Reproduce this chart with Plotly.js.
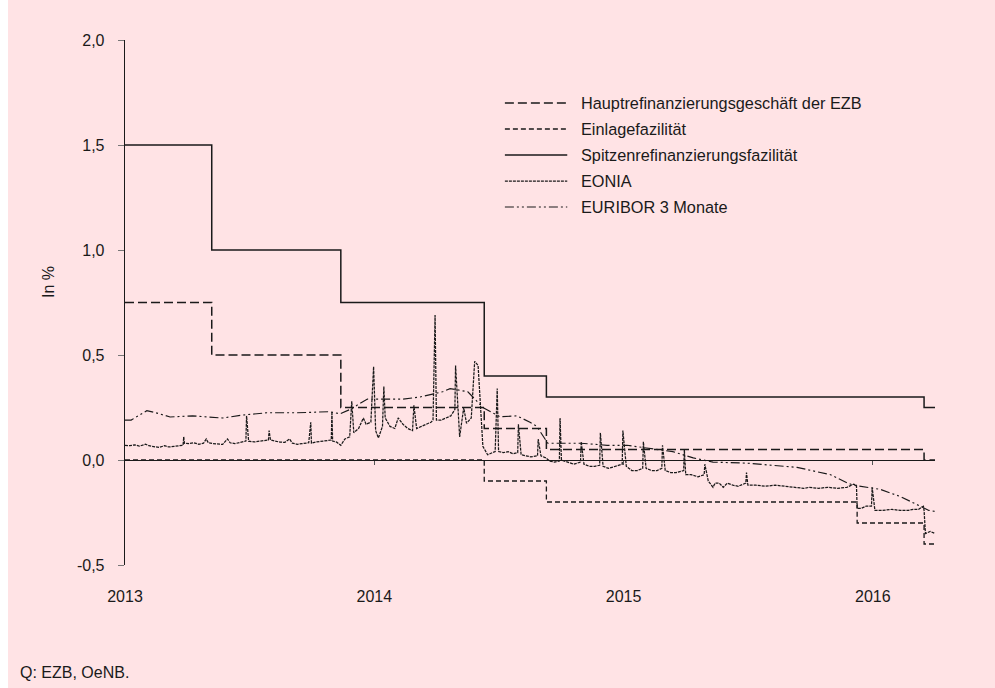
<!DOCTYPE html>
<html>
<head>
<meta charset="utf-8">
<script src="https://cdn.plot.ly/plotly-3.0.1.min.js"></script>
<style>
  html, body { margin: 0; padding: 0; background: #ffffff; }
  #chart { position: absolute; left: 8px; top: 0; width: 987px; height: 688px; }
</style>
</head>
<body>
<div id="chart"></div>
<script>
// ---------- DATA ----------
const seriesNames = [
  "Hauptrefinanzierungsgeschäft der EZB",
  "Einlagefazilität",
  "Spitzenrefinanzierungsfazilität",
  "EONIA",
  "EURIBOR 3 Monate"
];

const mroDates   = ["2013-01-01","2013-05-08","2013-11-13","2014-06-11","2014-09-10","2016-03-16","2016-04-01"];
const mroValues  = [0.75, 0.50, 0.25, 0.15, 0.05, 0.00, 0.00];

const depoDates  = ["2013-01-01","2014-06-11","2014-09-10","2015-12-09","2016-03-16","2016-04-01"];
const depoValues = [0.00, -0.10, -0.20, -0.30, -0.40, -0.40];

const mlfDates   = ["2013-01-01","2013-05-08","2013-11-13","2014-06-11","2014-09-10","2016-03-16","2016-04-01"];
const mlfValues  = [1.50, 1.00, 0.75, 0.40, 0.30, 0.25, 0.25];

const eoniaDates = [
"2013-01-01","2013-01-08","2013-01-15","2013-01-22","2013-01-31","2013-02-05","2013-02-12","2013-02-20","2013-02-28",
"2013-03-06","2013-03-14","2013-03-22","2013-03-27","2013-03-28","2013-03-29","2013-04-05","2013-04-12","2013-04-19",
"2013-04-26","2013-04-30","2013-05-03","2013-05-10","2013-05-17","2013-05-24","2013-05-31","2013-06-04","2013-06-11",
"2013-06-18","2013-06-27","2013-06-28","2013-07-01","2013-07-09","2013-07-16","2013-07-24","2013-07-30","2013-07-31",
"2013-08-02","2013-08-09","2013-08-16","2013-08-23","2013-08-30","2013-09-03","2013-09-10","2013-09-17","2013-09-24",
"2013-09-27","2013-09-30","2013-10-01","2013-10-08","2013-10-15","2013-10-22","2013-10-30","2013-10-31","2013-11-01",
"2013-11-07","2013-11-13","2013-11-19","2013-11-26","2013-11-29","2013-12-02","2013-12-09","2013-12-16","2013-12-20",
"2013-12-27","2013-12-31","2014-01-03","2014-01-07","2014-01-13","2014-01-15","2014-01-17","2014-01-24","2014-01-31",
"2014-02-05","2014-02-12","2014-02-19","2014-02-26","2014-02-28","2014-03-04","2014-03-11","2014-03-18","2014-03-25",
"2014-03-28","2014-03-31","2014-04-02","2014-04-09","2014-04-16","2014-04-23","2014-04-29","2014-04-30","2014-05-06",
"2014-05-12","2014-05-16","2014-05-23","2014-05-28","2014-06-02","2014-06-09","2014-06-16","2014-06-23","2014-06-27",
"2014-06-30","2014-07-02","2014-07-09","2014-07-16","2014-07-23","2014-07-30","2014-07-31","2014-08-04","2014-08-11",
"2014-08-18","2014-08-28","2014-08-29","2014-09-02","2014-09-09","2014-09-15","2014-09-22","2014-09-29","2014-09-30",
"2014-10-02","2014-10-10","2014-10-20","2014-10-30","2014-10-31","2014-11-04","2014-11-12","2014-11-20","2014-11-27",
"2014-11-28","2014-12-02","2014-12-10","2014-12-19","2014-12-30","2014-12-31","2015-01-05","2015-01-13","2015-01-21",
"2015-01-29","2015-01-30","2015-02-03","2015-02-11","2015-02-19","2015-02-26","2015-02-27","2015-03-03","2015-03-11",
"2015-03-19","2015-03-30","2015-03-31","2015-04-02","2015-04-10","2015-04-20","2015-04-29","2015-04-30","2015-05-05",
"2015-05-12","2015-05-15","2015-05-21","2015-05-27","2015-06-02","2015-06-10","2015-06-18","2015-06-29","2015-06-30",
"2015-07-02","2015-07-14","2015-07-28","2015-08-11","2015-08-25","2015-09-08","2015-09-22","2015-09-30","2015-10-13",
"2015-10-27","2015-11-10","2015-11-24","2015-12-04","2015-12-08","2015-12-09","2015-12-15","2015-12-22","2015-12-30",
"2015-12-31","2016-01-04","2016-01-14","2016-01-29","2016-02-10","2016-02-22","2016-02-29","2016-03-08","2016-03-15",
"2016-03-16","2016-03-18","2016-03-25","2016-04-01"];
const eoniaValues = [
0.070,0.068,0.072,0.066,0.075,0.068,0.064,0.060,0.068,
0.062,0.065,0.066,0.070,0.110,0.080,0.078,0.082,0.075,
0.080,0.100,0.082,0.078,0.076,0.074,0.100,0.082,0.078,
0.082,0.090,0.210,0.090,0.086,0.090,0.092,0.095,0.140,
0.095,0.090,0.085,0.084,0.100,0.080,0.075,0.078,0.080,
0.082,0.180,0.080,0.086,0.090,0.092,0.095,0.230,0.090,
0.085,0.070,0.100,0.110,0.280,0.130,0.150,0.200,0.170,
0.180,0.445,0.140,0.105,0.160,0.350,0.200,0.160,0.150,
0.200,0.170,0.150,0.140,0.260,0.150,0.160,0.170,0.180,
0.190,0.690,0.190,0.190,0.200,0.210,0.240,0.450,0.110,
0.250,0.175,0.200,0.470,0.450,0.065,0.025,0.035,0.040,
0.340,0.040,0.035,0.040,0.030,0.035,0.170,0.025,0.020,
0.015,0.020,0.100,0.020,0.010,-0.005,-0.010,-0.005,0.200,
0.000,-0.010,-0.020,-0.010,0.087,-0.020,-0.030,-0.030,-0.025,
0.130,-0.030,-0.040,-0.030,-0.020,0.140,-0.030,-0.050,-0.050,
-0.040,0.087,-0.040,-0.050,-0.050,-0.040,0.070,-0.050,-0.060,
-0.060,-0.050,0.050,-0.070,-0.070,-0.080,-0.070,-0.020,-0.100,
-0.130,-0.110,-0.110,-0.130,-0.110,-0.120,-0.125,-0.110,-0.060,
-0.120,-0.120,-0.125,-0.120,-0.125,-0.130,-0.135,-0.130,-0.135,
-0.130,-0.135,-0.130,-0.115,-0.120,-0.230,-0.230,-0.220,-0.220,
-0.130,-0.240,-0.240,-0.235,-0.240,-0.240,-0.235,-0.235,-0.220,
-0.240,-0.350,-0.340,-0.350];

const euriborDates = [
"2013-01-01","2013-01-10","2013-02-02","2013-02-15","2013-03-08","2013-04-10","2013-05-24","2013-06-22","2013-07-28",
"2013-09-10","2013-10-28","2013-11-12","2013-11-26","2013-12-22","2014-01-06","2014-02-12","2014-03-09","2014-04-11",
"2014-04-22","2014-05-18","2014-06-09","2014-07-04","2014-07-29","2014-08-17","2014-08-27","2014-09-12","2014-10-30",
"2014-12-08","2015-01-06","2015-02-05","2015-03-14","2015-04-13","2015-05-12","2015-06-30","2015-08-18","2015-09-12",
"2015-10-31","2015-11-25","2015-12-04","2016-01-12","2016-02-11","2016-03-11","2016-03-23","2016-04-01"];
const euriborValues = [
0.190,0.190,0.235,0.225,0.205,0.210,0.200,0.214,0.225,
0.225,0.230,0.220,0.240,0.290,0.290,0.290,0.300,0.325,
0.340,0.325,0.250,0.206,0.210,0.180,0.160,0.080,0.080,
0.070,0.070,0.055,0.040,0.010,-0.010,-0.015,-0.030,-0.035,
-0.070,-0.110,-0.120,-0.140,-0.175,-0.220,-0.240,-0.245];

const xTickVals  = ["2013-01-01","2014-01-01","2015-01-01","2016-01-01"];
const xTickText  = ["2013","2014","2015","2016"];
const yTickVals  = [-0.5, 0, 0.5, 1.0, 1.5, 2.0];
const yTickText  = ["-0,5","0,0","0,5","1,0","1,5","2,0"];
const sourceText = "Q: EZB, OeNB.";
const yTitleText = "In %";

// ---------- STYLE ----------
const INK = "#1a1a1a";
const BG  = "#ffe3e5";
const FONT = "Liberation Sans, Arial, sans-serif";
const styles = [
  {dash: "9px,4px", width: 1.5},
  {dash: "5px,3px", width: 1.3},
  {dash: "solid",   width: 1.5},
  {dash: "3px,1px", width: 1.25},
  {dash: "9px,3px,2px,3px,2px,3px", width: 1.15}
];
const xs = [mroDates, depoDates, mlfDates, eoniaDates, euriborDates];
const ys = [mroValues, depoValues, mlfValues, eoniaValues, euriborValues];
const shapesLine = ["hv","hv","hv","linear","linear"];

const traces = seriesNames.map((n, i) => ({
  type: "scatter", mode: "lines", name: n,
  x: xs[i], y: ys[i],
  line: {color: INK, width: styles[i].width, dash: styles[i].dash, shape: shapesLine[i]},
  showlegend: false, hoverinfo: "skip"
}));
// empty helper trace so that the zero-line axis (x2) with its ticks is drawn
traces.push({type: "scatter", mode: "lines", x: [], y: [], xaxis: "x2", yaxis: "y",
  showlegend: false, hoverinfo: "skip"});

// custom legend (long sample lines like the original)
const legX0 = 0.469, legX1 = 0.546, legTop = 103, legStep = 26;
const plotTop = 40, plotH = 525;
const toPaperY = py => (plotTop + plotH - py) / plotH;
const legendShapes = seriesNames.map((n, i) => ({
  type: "line", xref: "paper", yref: "paper",
  x0: legX0, x1: legX1, y0: toPaperY(legTop + i*legStep), y1: toPaperY(legTop + i*legStep),
  line: {color: INK, width: styles[i].width, dash: styles[i].dash}
}));
const legendAnn = seriesNames.map((n, i) => ({
  text: n, xref: "paper", yref: "paper", x: 0.560, y: toPaperY(legTop + i*legStep),
  xanchor: "left", yanchor: "middle", showarrow: false,
  font: {family: FONT, size: 16.3, color: INK}
}));

const layout = {
  width: 987, height: 688,
  margin: {l: 117, r: 60, t: 40, b: 123, pad: 0},
  paper_bgcolor: BG, plot_bgcolor: BG,
  separators: ",.",
  font: {family: FONT, size: 16, color: INK},
  showlegend: false,
  xaxis: {
    type: "date", range: ["2013-01-01","2016-04-01"],
    tickmode: "array", tickvals: xTickVals, ticktext: xTickText,
    showline: false, showgrid: false, zeroline: false, ticks: "",
    ticklabelstandoff: 20, tickfont: {family: FONT, size: 16, color: INK}
  },
  xaxis2: {
    type: "date", range: ["2013-01-01","2016-04-01"], overlaying: "x",
    anchor: "free", position: 0.2, side: "bottom",
    tickmode: "array", tickvals: xTickVals.slice(1),
    showticklabels: false, showline: true, linecolor: INK, linewidth: 1.4,
    ticks: "outside", ticklen: 4, tickcolor: "#555", tickwidth: 1,
    showgrid: false, zeroline: false
  },
  yaxis: {
    range: [-0.5, 2.0], tickmode: "array", tickvals: yTickVals, ticktext: yTickText,
    showline: true, linecolor: INK, linewidth: 1.3,
    ticks: "outside", ticklen: 6, tickcolor: "#777", tickwidth: 1,
    showgrid: false, zeroline: false,
    ticklabelstandoff: 10,
    tickfont: {family: FONT, size: 16, color: INK}
  },
  shapes: legendShapes,
  annotations: legendAnn.concat([
    {text: yTitleText, xref: "paper", yref: "paper", x: (48-125)/810, y: toPaperY(282),
     xanchor: "center", yanchor: "middle", textangle: -90, showarrow: false,
     font: {family: FONT, size: 16, color: INK}},
    {text: sourceText, xref: "paper", yref: "paper", x: (18-125)/810, y: toPaperY(672),
     xanchor: "left", yanchor: "middle", showarrow: false,
     font: {family: FONT, size: 16, color: INK}}
  ])
};

Plotly.newPlot("chart", traces, layout, {displayModeBar: false, staticPlot: true});
</script>
</body>
</html>
